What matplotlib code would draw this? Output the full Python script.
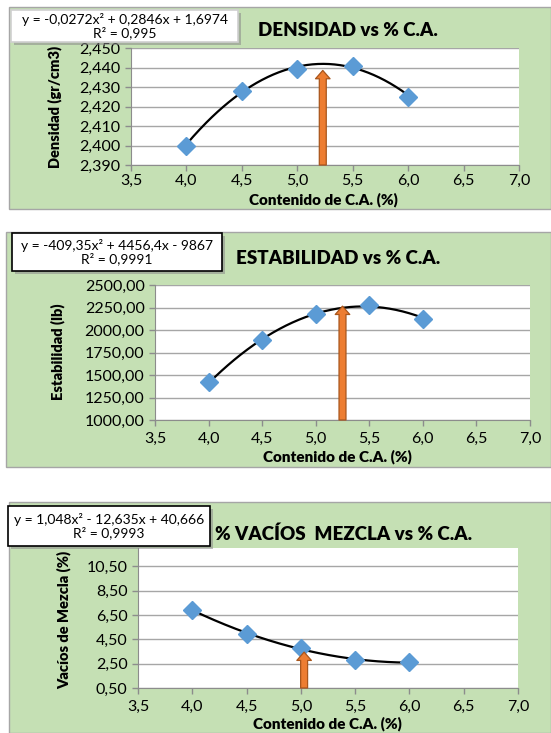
import numpy as np
import matplotlib.pyplot as plt
from matplotlib.patches import Rectangle

plt.rcParams['font.family'] = ['Lato', 'DejaVu Sans']

W, H = 551, 733

# contenido de cemento asfaltico (%)
contenido = [4.0, 4.5, 5.0, 5.5, 6.0]

densidad = [2.400, 2.428, 2.439, 2.441, 2.425]
estabilidad = [1420, 1885, 2180, 2275, 2125]
vacios = [6.90, 4.95, 3.75, 2.80, 2.60]

# coeficientes de la linea de tendencia: a*x^2 + b*x + c
coef_densidad = [-0.0272, 0.2846, 1.6974]
coef_estabilidad = [-409.35, 4456.4, -9867]
coef_vacios = [1.048, -12.635, 40.666]

ecuaciones = ['y = -0,0272x² + 0,2846x + 1,6974\nR² = 0,995',
              'y = -409,35x² + 4456,4x - 9867\nR² = 0,9991',
              'y = 1,048x² - 12,635x + 40,666\nR² = 0,9993']

titulos = ['DENSIDAD vs % C.A.', 'ESTABILIDAD vs % C.A.', '% VACÍOS  MEZCLA vs % C.A.']
ylabels = ['Densidad (gr/cm3)', 'Estabilidad (lb)', 'Vacíos de Mezcla (%)']
xlabel = 'Contenido de C.A. (%)'

# flecha del contenido optimo: x y altura de la punta
optimo_x = [5.23, 5.25, 5.03]
optimo_y = [2.4385, 2265, 3.45]

x_ticks = [3.5, 4.0, 4.5, 5.0, 5.5, 6.0, 6.5, 7.0]
y_ticks = [[2.390, 2.400, 2.410, 2.420, 2.430, 2.440, 2.450],
           [1000, 1250, 1500, 1750, 2000, 2250, 2500],
           [0.5, 2.5, 4.5, 6.5, 8.5, 10.5]]
y_lims = [(2.390, 2.450), (1000, 2500), (0.5, 12.0)]
y_dec = [3, 2, 2]

GREEN = '#C5E0B4'
BLUE = '#5B9BD5'
ORANGE = '#ED7D31'


def frac(x0, y0, x1, y1):
    # pixel box (top-left origin) -> figure fraction [l, b, w, h]
    return [x0 / W, 1 - y1 / H, (x1 - x0) / W, (y1 - y0) / H]


def fx(x):
    return x / W


def fy(y):
    return 1 - y / H


# layout of each panel in pixels
fondos = [(9, 7, 551, 209), (6, 232, 551, 467), (9, 502, 551, 733)]
areas = [(131, 48, 519, 165), (155, 285, 530, 420), (138, 548, 518, 688)]
cajas = [(11, 10, 238, 42), (12, 233, 222, 271), (8, 506, 210, 546)]
borde_caja = ['#D0D0D0', 'black', 'black']
titulo_pos = [(348, 31), (338, 258), (344, 534)]
ylabel_pos = [(55, 107), (58, 352), (64, 620)]
xlabel_pos = [(323, 200), (337, 457), (327, 724)]
x_pad = [2.5, 4.5, 4.5]

fig = plt.figure(figsize=(W / 100, H / 100), dpi=100)

for i in range(3):
    x0, y0, x1, y1 = fondos[i]
    fig.patches.append(Rectangle((fx(x0), fy(y1)), (x1 - x0) / W, (y1 - y0) / H,
                                 transform=fig.transFigure, facecolor=GREEN,
                                 edgecolor='#A6A6A6', linewidth=1, zorder=-10))

    ax = fig.add_axes(frac(*areas[i]))
    ax.set_zorder(1)
    ax.set_facecolor('white')
    ys = [densidad, estabilidad, vacios][i]
    coef = [coef_densidad, coef_estabilidad, coef_vacios][i]

    xx = np.linspace(min(contenido), max(contenido), 200)
    ax.plot(xx, np.polyval(coef, xx), color='black', lw=1.6, zorder=3)
    ax.plot(contenido, ys, linestyle='none', marker='D', markersize=9,
            color=BLUE, zorder=4)

    ax.annotate('', xy=(optimo_x[i], optimo_y[i]), xytext=(optimo_x[i], y_lims[i][0]),
                arrowprops=dict(arrowstyle='simple,head_length=0.6,head_width=1.05,tail_width=0.5',
                                mutation_scale=10, facecolor=ORANGE,
                                edgecolor='#A9561C', lw=0.9, shrinkA=0, shrinkB=0),
                zorder=5)

    ax.set_xlim(3.5, 7.0)
    ax.set_ylim(*y_lims[i])
    ax.set_xticks(x_ticks)
    ax.set_xticklabels([f'{v:.1f}'.replace('.', ',') for v in x_ticks])
    ax.set_yticks(y_ticks[i])
    ax.set_yticklabels([f'{v:.{y_dec[i]}f}'.replace('.', ',') for v in y_ticks[i]])
    ax.grid(axis='y', color='#A6A6A6', lw=1)
    ax.set_axisbelow(True)
    for s in ['top', 'right']:
        ax.spines[s].set_visible(False)
    for s in ['left', 'bottom']:
        ax.spines[s].set_color('#8C8C8C')
    ax.tick_params(axis='both', colors='#8C8C8C', labelcolor='black',
                   labelsize=11.5, length=4, width=1)
    ax.tick_params(axis='x', pad=x_pad[i])

    # caja de la ecuacion con sombra
    cx0, cy0, cx1, cy1 = cajas[i]
    fig.patches.append(Rectangle((fx(cx0 + 3), fy(cy1 + 3)), (cx1 - cx0) / W, (cy1 - cy0) / H,
                                 transform=fig.transFigure, facecolor='#8A8A8A',
                                 edgecolor='none', alpha=0.55, zorder=5))
    fig.patches.append(Rectangle((fx(cx0), fy(cy1)), (cx1 - cx0) / W, (cy1 - cy0) / H,
                                 transform=fig.transFigure, facecolor='white',
                                 edgecolor=borde_caja[i], linewidth=1.2, zorder=6))
    fig.text(fx((cx0 + cx1) / 2), fy((cy0 + cy1) / 2), ecuaciones[i], ha='center',
             va='center', fontsize=10, linespacing=1.05, zorder=7)

    fig.text(fx(titulo_pos[i][0]), fy(titulo_pos[i][1]), titulos[i], ha='center',
             va='center', fontsize=13.5, fontweight='heavy', zorder=7)
    fig.text(fx(ylabel_pos[i][0]), fy(ylabel_pos[i][1]), ylabels[i], ha='center',
             va='center', rotation=90, fontsize=10.5, fontweight='heavy', zorder=7)
    fig.text(fx(xlabel_pos[i][0]), fy(xlabel_pos[i][1]), xlabel, ha='center',
             va='center', fontsize=11, fontweight='heavy', zorder=7)

fig.savefig('out.png', dpi=100, facecolor='white')
